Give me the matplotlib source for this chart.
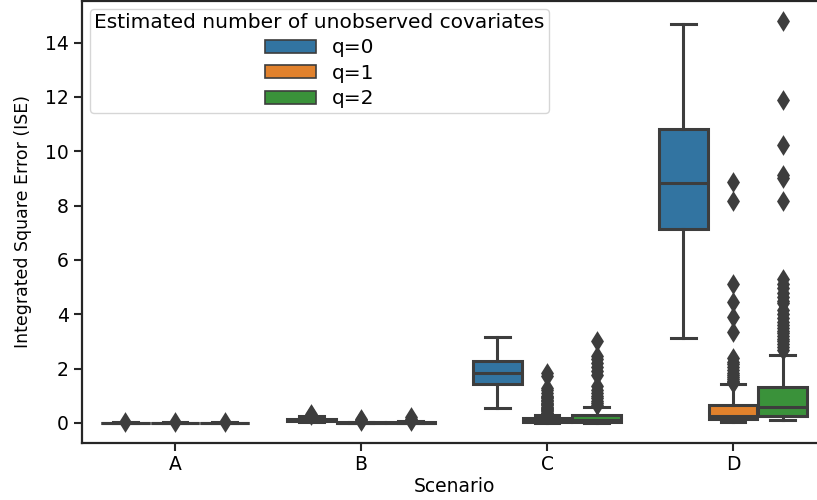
import matplotlib
matplotlib.use("Agg")
import matplotlib.pyplot as plt
from matplotlib.patches import Patch

# scenarios on the x axis and the three estimated q values (hue)
scenarios = ['A', 'B', 'C', 'D']
hue_names = ['q=0', 'q=1', 'q=2']
colors = ['#3274a1', '#e1812c', '#3a923a']

# box statistics per hue, one value per scenario
q0_whislo = [0.0, 0.02, 0.55, 3.14]
q0_q1 = [0.0, 0.06, 1.43, 7.12]
q0_med = [0.005, 0.10, 1.83, 8.83]
q0_q3 = [0.01, 0.15, 2.29, 10.83]
q0_whishi = [0.015, 0.26, 3.18, 14.69]
q0_fliers = [[0.02], [0.29, 0.32], [], []]

q1_whislo = [0.0, 0.0, 0.0, 0.03]
q1_q1 = [0.0, 0.0, 0.02, 0.14]
q1_med = [0.003, 0.01, 0.07, 0.26]
q1_q3 = [0.008, 0.02, 0.17, 0.66]
q1_whishi = [0.015, 0.04, 0.28, 1.42]
q1_fliers = [
    [0.02],
    [0.06, 0.1, 0.14],
    [1.82, 1.72, 1.28, 1.2, 1.1, 1.0, 0.95, 0.9, 0.85, 0.8, 0.75, 0.7,
     0.65, 0.6, 0.55, 0.5, 0.46, 0.42, 0.38, 0.35],
    [8.87, 8.16, 5.1, 4.44, 3.91, 3.33, 2.38, 2.25, 2.15, 2.05, 1.95,
     1.85, 1.78, 1.7, 1.63, 1.56, 1.5, 1.46],
]

q2_whislo = [0.0, 0.0, 0.01, 0.09]
q2_q1 = [0.0, 0.0, 0.04, 0.26]
q2_med = [0.003, 0.01, 0.10, 0.60]
q2_q3 = [0.008, 0.03, 0.30, 1.31]
q2_whishi = [0.015, 0.06, 0.58, 2.5]
q2_fliers = [
    [0.02],
    [0.08, 0.12, 0.16, 0.22],
    [3.03, 2.45, 2.35, 2.2, 2.05, 1.9, 1.75, 1.35, 1.2, 1.1, 1.0, 0.9,
     0.8, 0.72, 0.65],
    [14.8, 11.9, 10.24, 9.12, 9.02, 8.16, 5.28, 5.1, 4.95, 4.8, 4.65,
     4.5, 4.42, 4.15, 4.0, 3.85, 3.7, 3.6, 3.5, 3.4, 3.3, 3.2, 3.1, 3.0,
     2.9, 2.8, 2.7],
]

groups = [
    (q0_whislo, q0_q1, q0_med, q0_q3, q0_whishi, q0_fliers),
    (q1_whislo, q1_q1, q1_med, q1_q3, q1_whishi, q1_fliers),
    (q2_whislo, q2_q1, q2_med, q2_q3, q2_whishi, q2_fliers),
]

dark = '#3d3d3d'
fs = 13.5
fig = plt.figure(figsize=(8.17, 5.0), dpi=100)
ax = fig.add_axes([82 / 817, 57 / 500, 744 / 817, 442.5 / 500])

hue_w = 0.8 / len(hue_names)
for h, (wlo, q1, med, q3, whi, fl) in enumerate(groups):
    stats = []
    for i in range(len(scenarios)):
        stats.append(dict(whislo=wlo[i], q1=q1[i], med=med[i], q3=q3[i],
                          whishi=whi[i], fliers=fl[i]))
    pos = [i + (h - 1) * hue_w for i in range(len(scenarios))]
    ax.bxp(stats, positions=pos, widths=hue_w * 0.98, patch_artist=True,
           showfliers=True, manage_ticks=False,
           boxprops=dict(facecolor=colors[h], edgecolor=dark, linewidth=2.2),
           medianprops=dict(color=dark, linewidth=2.2),
           whiskerprops=dict(color=dark, linewidth=2.2),
           capprops=dict(color=dark, linewidth=2.2),
           flierprops=dict(marker='d', markersize=8, markerfacecolor=dark,
                           markeredgecolor=dark, markeredgewidth=1.8))

ax.set_xlim(-0.5, 3.5)
ax.set_ylim(-0.74, 15.55)
ax.set_xticks(range(len(scenarios)))
ax.set_xticklabels(scenarios)
ax.set_yticks([0, 2, 4, 6, 8, 10, 12, 14])
ax.tick_params(labelsize=fs, width=1.5, color='#262626')
ax.tick_params(axis='x', length=6, pad=3)
ax.tick_params(axis='y', length=6, pad=3.5)
for s in ax.spines.values():
    s.set_linewidth(1.6)
    s.set_color('#262626')

ax.set_xlabel('Scenario', fontsize=fs, labelpad=2)
ax.set_ylabel('Integrated Square Error (ISE)', fontsize=12.5, labelpad=9)

handles = [Patch(facecolor=c, edgecolor=dark, linewidth=1.2) for c in colors]
ax.legend(handles, hue_names, title='Estimated number of unobserved covariates',
          loc='upper left', fontsize=14.5, title_fontsize=14.5,
          handlelength=2.5, handleheight=0.6, labelspacing=0.32,
          borderpad=0.22, borderaxespad=0.4)

fig.savefig('out.png', dpi=100)
